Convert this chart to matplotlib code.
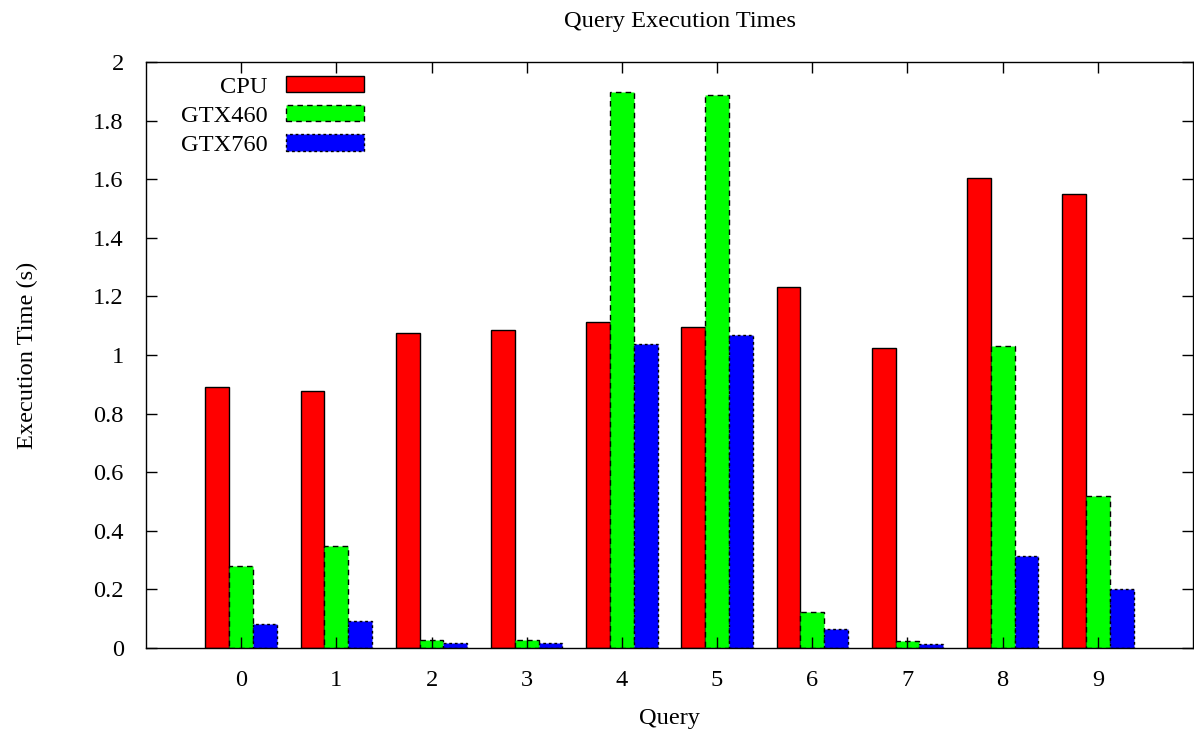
import matplotlib
matplotlib.use("Agg")
import matplotlib.pyplot as plt
import numpy as np

queries = [0, 1, 2, 3, 4, 5, 6, 7, 8, 9]
cpu = [0.891, 0.877, 1.075, 1.085, 1.111, 1.096, 1.233, 1.025, 1.605, 1.550]
gtx460 = [0.279, 0.348, 0.028, 0.028, 1.899, 1.886, 0.124, 0.024, 1.031, 0.519]
gtx760 = [0.083, 0.093, 0.017, 0.016, 1.037, 1.068, 0.065, 0.013, 0.314, 0.201]

plt.rcParams["font.family"] = ["Liberation Serif", "DejaVu Serif"]
plt.rcParams["font.size"] = 17.6

fig = plt.figure(figsize=(11.94, 7.40), dpi=100)
ax = fig.add_axes([146 / 1194, 1 - 648 / 740, (1193 - 146) / 1194, (648 - 62) / 740])

x = np.array(queries)
w = 0.25
ax.bar(x - w, cpu, w, color="#ff0000", edgecolor="black", linewidth=1, label="CPU")
ax.bar(x, gtx460, w, color="#00ff00", edgecolor="black", linewidth=1,
       linestyle=(0, (4, 3)), label="GTX460")
ax.bar(x + w, gtx760, w, color="#0000ff", edgecolor="black", linewidth=1,
       linestyle=(0, (2, 2)), label="GTX760")

ax.set_xlim(-1, 10)
ax.set_ylim(0, 2)
ax.set_xticks(queries)
ax.set_yticks(np.arange(0, 2.01, 0.2))
ax.set_yticklabels(["0", "0.2", "0.4", "0.6", "0.8", "1", "1.2", "1.4", "1.6", "1.8", "2"])
ax.tick_params(direction="in", length=8, width=1, top=True, right=True)
ax.tick_params(axis="x", pad=16)
ax.tick_params(axis="y", pad=16)
for s in ax.spines.values():
    s.set_linewidth(1)

ax.set_title("Query Execution Times", fontsize=17.6, pad=25, x=0.5105)
ax.set_xlabel("Query", labelpad=12)
ax.set_ylabel("Execution Time (s)", labelpad=40)

ax.legend(loc="upper left", bbox_to_anchor=(0.033, 0.976), frameon=False,
          markerfirst=False, handlelength=3.2, handleheight=0.65,
          handletextpad=0.75, labelspacing=0.3, borderpad=0, borderaxespad=0)

fig.savefig("out.png", dpi=100)
